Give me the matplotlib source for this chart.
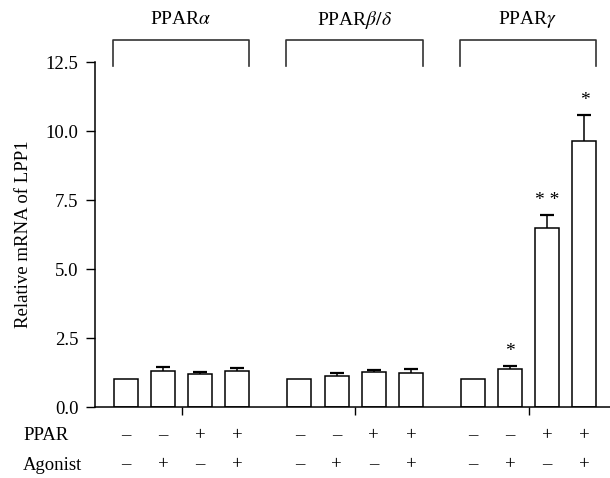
import matplotlib
matplotlib.use("Agg")
import matplotlib.pyplot as plt

plt.rcParams['font.family'] = ['Liberation Serif', 'DejaVu Serif']
plt.rcParams['mathtext.fontset'] = 'stix'

# data
groups = ['PPAR$\\alpha$', 'PPAR$\\beta/\\delta$', 'PPAR$\\gamma$']
values = [
    [1.0, 1.32, 1.19, 1.29],
    [1.0, 1.14, 1.26, 1.23],
    [1.0, 1.39, 6.49, 9.64],
]
errors = [
    [0.0, 0.14, 0.08, 0.12],
    [0.0, 0.10, 0.09, 0.16],
    [0.0, 0.11, 0.48, 0.95],
]
stars = [
    ['', '', '', ''],
    ['', '', '', ''],
    ['', '*', '* *', '*'],
]
ppar_row = ['\u2013', '\u2013', '+', '+']
agonist_row = ['\u2013', '+', '\u2013', '+']

group_step = 14 / 3
width = 0.645

fig = plt.figure(figsize=(6.10, 4.78), dpi=100)
ax = fig.add_axes([0.155, 0.1485, 0.845, 0.7211])

for g in range(len(groups)):
    xs = [g * group_step + i for i in range(4)]
    ax.bar(xs, values[g], width=width, color='white', edgecolor='black',
           linewidth=1.1, zorder=2)
    ex = [x for x, e in zip(xs, errors[g]) if e > 0]
    ev = [v for v, e in zip(values[g], errors[g]) if e > 0]
    ee = [e for e in errors[g] if e > 0]
    eb = ax.errorbar(ex, ev, yerr=[[0] * len(ee), ee], fmt='none',
                     ecolor='black', elinewidth=1.1, capsize=5, capthick=1.6,
                     zorder=3)
    # keep only the upper caps
    eb[1][0].set_visible(False)
    for i in range(4):
        if stars[g][i]:
            ax.text(xs[i], values[g][i] + errors[g][i] + 0.2, stars[g][i],
                    ha='center', va='bottom', fontsize=14)
        ax.text(xs[i], -1.05, ppar_row[i], ha='center', va='center',
                fontsize=13.5, clip_on=False)
        ax.text(xs[i], -2.1, agonist_row[i], ha='center', va='center',
                fontsize=13.5, clip_on=False)

    # bracket with group title
    left = xs[0] - 0.35
    right = xs[-1] + 0.32
    ax.plot([left, left, right, right], [12.36, 13.31, 13.31, 12.36],
            color='#333333', linewidth=1.2, clip_on=False)
    ax.text((left + right) / 2, 14.05, groups[g], ha='center', va='center',
            fontsize=14)

ax.set_xlim(-0.84, 13.02)
ax.set_ylim(0, 12.5)
ax.set_yticks([0, 2.5, 5, 7.5, 10, 12.5])
ax.set_yticklabels(['0.0', '2.5', '5.0', '7.5', '10.0', '12.5'])
ax.set_xticks([1.5 + g * group_step for g in range(len(groups))])
ax.set_xticklabels([])
ax.tick_params(axis='y', direction='out', length=6.5, width=1, pad=5,
               labelsize=13.5)
ax.tick_params(axis='x', direction='out', length=6, width=1)
for side in ['top', 'right']:
    ax.spines[side].set_visible(False)
for side in ['left', 'bottom']:
    ax.spines[side].set_linewidth(1.1)
ax.set_ylabel('Relative mRNA of LPP1', fontsize=13.5, labelpad=10)

fig.text(23 / 610, 1 - 435 / 478, 'PPAR', ha='left', va='center', fontsize=13.5)
fig.text(23 / 610, 1 - 465 / 478, 'Agonist', ha='left', va='center', fontsize=13.5)

fig.savefig('out.png', dpi=100)
